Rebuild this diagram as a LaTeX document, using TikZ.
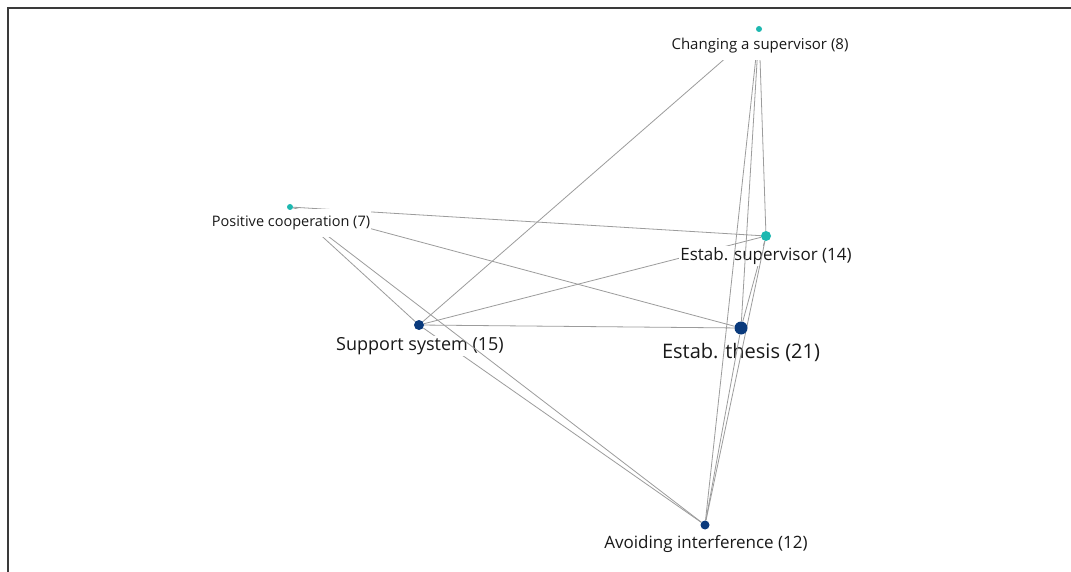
\documentclass[tikz,border=0pt]{standalone}
\usepackage{fontspec}
\setmainfont{Open Sans}
\usepackage{xcolor}
\usepackage{tikz}
\usetikzlibrary{calc}

\definecolor{dotteal}{HTML}{1DB8B0}
\definecolor{dotnavy}{HTML}{0A3A7C}
\definecolor{edgegray}{HTML}{9C9C9C}
\definecolor{framegray}{HTML}{3A3A3A}
\newcommand{\lblsize}[1]{\fontsize{#1}{#1}\selectfont}
\pgfdeclarelayer{under}
\pgfsetlayers{under,main}

\begin{document}
\begin{tikzpicture}[x=1pt,y=-1pt,
  tealdot/.style={circle,fill=dotteal,inner sep=0pt,minimum size=#1},
  navydot/.style={circle,fill=dotnavy,inner sep=0pt,minimum size=#1},
  lbl/.style={fill=white,inner sep=1pt,text=black!90},
  edge/.style={edgegray,line width=0.8pt}]
  \useasboundingbox (0,0) rectangle (1071,572);
  \draw[framegray,line width=2.5pt] (8,572) -- (8,8) -- (1071,8);

  % dots
  \node[tealdot=6pt] (cs) at (759,29) {};
  \node[tealdot=6pt] (pc) at (290,207) {};
  \node[tealdot=10pt] (es) at (766,236) {};
  \node[navydot=10pt] (ss) at (419,325) {};
  \node[navydot=13pt] (et) at (741,328) {};
  \node[navydot=9pt] (ai) at (705,525) {};

  \begin{pgfonlayer}{under}
  \fill[white] (0,0) rectangle (1071,572);
  % edges under the labels
  \draw[edge] (cs) -- (ss);
  \draw[edge] (cs) -- (es);
  \draw[edge] (pc) -- (es);
  \draw[edge] (pc) -- (et);
  \draw[edge] (pc) -- (ss);
  \draw[edge] (ss) -- (es);
  \draw[edge] (ss) -- (et);
  \draw[edge] (ss) -- (ai);
  \draw[edge] (es) -- (et);

  \node[lbl] (esl) at (766,256) {\lblsize{17}Estab. supervisor (14)};
  \node[lbl] (etl) at (741,352) {\lblsize{20}Estab. thesis (21)};
  \node[lbl] (ssl) at (420,346) {\lblsize{18}Support system (15)};

  % edges over the labels
  \draw[edge] (cs) -- (et);
  \draw[edge] (cs) -- (ai);
  \draw[edge] (es) -- (ai);
  \draw[edge] (et) -- (ai);
  \draw[edge] (pc) -- (ai);

  \node[lbl,inner ysep=7pt] (csl) at (760,46) {\lblsize{15}Changing a supervisor (8)};
  \node[lbl,inner ysep=7pt] (pcl) at (291,223) {\lblsize{14.5}Positive cooperation (7)};
  \node[lbl] (ail) at (706,544) {\lblsize{17}Avoiding interference (12)};
  \end{pgfonlayer}
\end{tikzpicture}
\end{document}
